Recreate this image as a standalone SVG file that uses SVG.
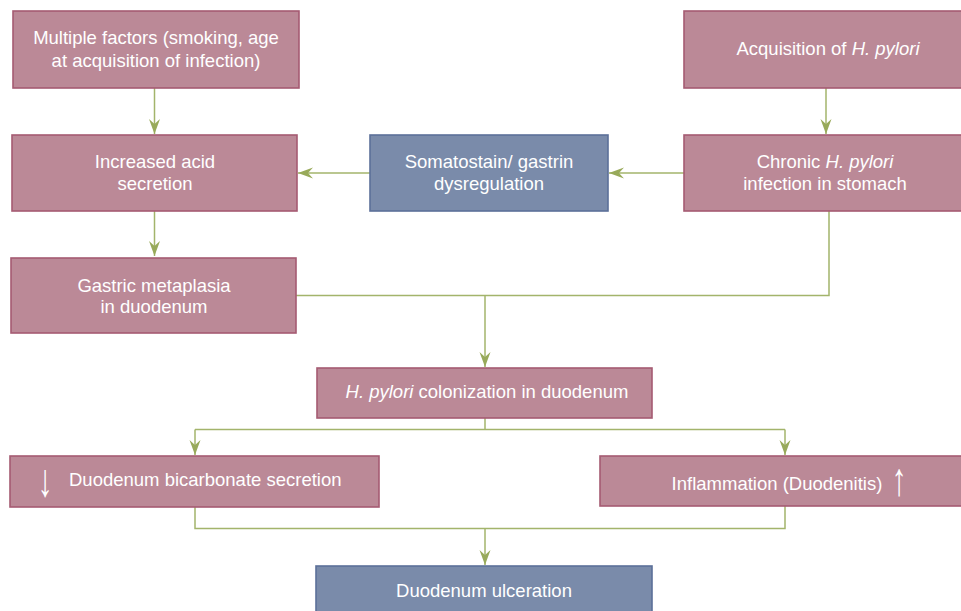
<svg xmlns="http://www.w3.org/2000/svg" width="961" height="611" viewBox="0 0 961 611">
<style>
.p{fill:#bb8997;stroke:#a55b72;stroke-width:1.6}
.b{fill:#7a8baa;stroke:#5c7099;stroke-width:1.6}
.t{fill:#ffffff;font-family:"Liberation Sans",Arial,sans-serif;font-size:18.5px;text-anchor:middle}
.ts{fill:#ffffff;font-family:"Liberation Sans",Arial,sans-serif;font-size:18.5px}
.ar{fill:#ffffff;font-family:"Liberation Sans",Arial,sans-serif;font-size:30px;text-anchor:middle}
.c{fill:none;stroke:#a3b46b;stroke-width:1.5}
</style>
<defs>
<marker id="ah" markerUnits="userSpaceOnUse" markerWidth="16" markerHeight="12" viewBox="0 0 16 12" refX="15" refY="6" orient="auto">
<path d="M15,6 L0,0.5 L5,6 L0,11.5 Z" fill="#98aa5a"/>
</marker>
</defs>
<g id="connectors">
<path class="c" d="M154.5,88 V134" marker-end="url(#ah)"/>
<path class="c" d="M154.5,211 V256" marker-end="url(#ah)"/>
<path class="c" d="M826,88 V134" marker-end="url(#ah)"/>
<path class="c" d="M684,173 H609" marker-end="url(#ah)"/>
<path class="c" d="M370,173 H298" marker-end="url(#ah)"/>
<path class="c" d="M829,211 V295.5 H296"/>
<path class="c" d="M485,295.5 V367" marker-end="url(#ah)"/>
<path class="c" d="M485,418 V429.5"/>
<path class="c" d="M195,429.5 H785"/>
<path class="c" d="M195,429.5 V455" marker-end="url(#ah)"/>
<path class="c" d="M785,429.5 V455" marker-end="url(#ah)"/>
<path class="c" d="M195,507 V528.5 H785 V506"/>
<path class="c" d="M485,528.5 V565" marker-end="url(#ah)"/>
</g>
<g id="n1">
<rect class="p" x="13" y="11" width="286" height="77"/>
<text class="t" x="156" y="44">Multiple factors (smoking, age</text>
<text class="t" x="156" y="67">at acquisition of infection)</text>
</g>
<g id="n2">
<rect class="p" x="684" y="11" width="290" height="77"/>
<text class="t" x="828" y="55">Acquisition of <tspan font-style="italic">H. pylori</tspan></text>
</g>
<g id="n3">
<rect class="p" x="12" y="135" width="285" height="76"/>
<text class="t" x="155" y="168">Increased acid</text>
<text class="t" x="155" y="190">secretion</text>
</g>
<g id="n4">
<rect class="b" x="370" y="135" width="238" height="76"/>
<text class="t" x="489" y="168">Somatostain/ gastrin</text>
<text class="t" x="489" y="190">dysregulation</text>
</g>
<g id="n5">
<rect class="p" x="684" y="135" width="290" height="76"/>
<text class="t" x="825" y="168">Chronic <tspan font-style="italic">H. pylori</tspan></text>
<text class="t" x="825" y="190">infection in stomach</text>
</g>
<g id="n6">
<rect class="p" x="11" y="258" width="285" height="75"/>
<text class="t" x="154" y="292">Gastric metaplasia</text>
<text class="t" x="154" y="313">in duodenum</text>
</g>
<g id="n7">
<rect class="p" x="317" y="368" width="335" height="50"/>
<text class="t" x="487" y="398"><tspan font-style="italic">H. pylori</tspan> colonization in duodenum</text>
</g>
<g id="n8">
<rect class="p" x="10" y="456" width="369" height="51"/>
<text class="ar" transform="translate(45,496) scale(1,1.55)">↓</text>
<text class="ts" x="69" y="486">Duodenum bicarbonate secretion</text>
</g>
<g id="n9">
<rect class="p" x="600" y="456" width="370" height="50"/>
<text class="t" x="777" y="490">Inflammation (Duodenitis)</text>
<text class="ar" transform="translate(899,495) scale(1,1.55)">↑</text>
</g>
<g id="n10">
<rect class="b" x="316" y="566" width="336" height="60"/>
<text class="t" x="484" y="597">Duodenum ulceration</text>
</g>
</svg>
